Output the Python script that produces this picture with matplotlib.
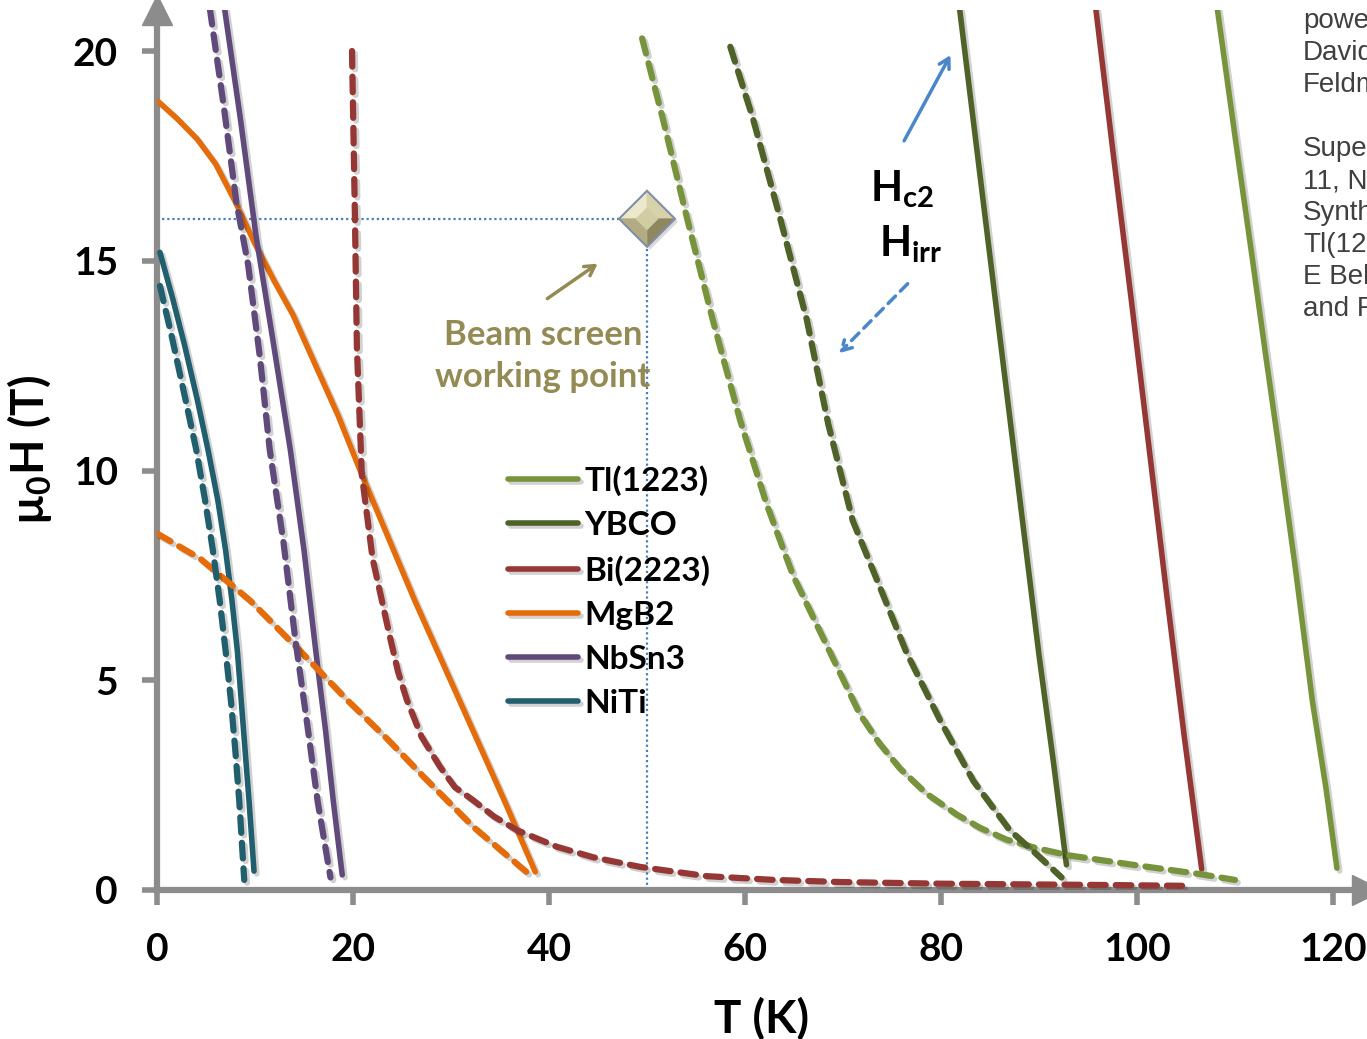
import numpy as np
import matplotlib
matplotlib.use("Agg")
import matplotlib.pyplot as plt
import matplotlib.patheffects as pe
from matplotlib import transforms
from matplotlib.patches import Polygon

plt.rcParams["font.family"] = ["Lato", "DejaVu Sans"]
plt.rcParams["font.weight"] = "bold"
plt.rcParams["mathtext.fontset"] = "custom"
plt.rcParams["mathtext.rm"] = "Lato:bold"
plt.rcParams["mathtext.default"] = "rm"

# ---- data (T in K, mu0H in T) ----
tl_T = [108.2, 110.1, 111.8, 113.1, 114.5, 116.2, 117.9, 119.3, 120.4]
tl_H = [21.0, 17.8, 15.0, 12.8, 10.5, 7.6, 4.5, 2.4, 0.52]
tl_irr_T = [49.5, 51.6, 54.1, 56.7, 59.5, 62.2, 64.9, 68.4, 71.7, 73.7, 75.8, 78.5, 81.6, 84.0, 86.7, 89.7,
            92.9, 99.6, 106.4, 110.0]
tl_irr_H = [20.3, 18.4, 16.0, 13.6, 11.2, 9.2, 7.5, 5.8, 4.2, 3.5, 2.9, 2.3, 1.8, 1.48, 1.2, 1.0,
            0.83, 0.6, 0.38, 0.24]

ybco_T = [81.9, 84.0, 86.0, 88.0, 90.0, 91.5, 92.8]
ybco_H = [21.0, 17.0, 13.2, 9.4, 5.6, 3.0, 0.6]
ybco_irr_T = [58.5, 60.8, 63.6, 66.3, 68.5, 71.0, 73.8, 76.5, 79.9, 83.3, 87.0, 90.0, 92.3]
ybco_irr_H = [20.1, 18.4, 16.0, 13.6, 11.1, 8.8, 7.2, 5.65, 4.05, 2.6, 1.43, 0.8, 0.3]

bi_T = [95.8, 97.6, 99.4, 101.2, 103.0, 104.8, 106.6]
bi_H = [21.0, 17.5, 14.1, 10.6, 7.1, 3.7, 0.5]
bi_irr_T = [19.9, 20.2, 20.4, 20.9, 22.0, 23.8, 24.6, 25.5, 27.0, 28.9, 30.4, 32.2, 34.4, 36.7, 40.8, 44.5,
            49.3, 56.1, 63.0, 69.7, 80.0, 96.2, 104.6]
bi_irr_H = [20.0, 16.0, 12.9, 9.9, 7.9, 6.0, 5.2, 4.53, 3.65, 2.93, 2.45, 2.15, 1.75, 1.43, 1.03, 0.78,
            0.55, 0.33, 0.24, 0.19, 0.15, 0.12, 0.1]

mgb2_T = [0.1, 2.0, 4.1, 6.0, 8.0, 10.0, 12.0, 13.9, 16.0, 18.5, 20.9, 26.3, 30.9, 35.5, 38.6]
mgb2_H = [18.8, 18.4, 17.9, 17.3, 16.4, 15.4, 14.5, 13.7, 12.6, 11.3, 9.9, 6.9, 4.5, 2.1, 0.43]
mgb2_irr_T = [0.0, 4.4, 9.5, 14.6, 19.4, 23.5, 27.2, 32.3, 37.7]
mgb2_irr_H = [8.5, 7.9, 6.9, 5.7, 4.53, 3.6, 2.7, 1.5, 0.43]

nbsn_T = [6.9, 8.5, 10.1, 11.9, 13.6, 15.0, 16.2, 17.2, 18.0, 18.9]
nbsn_H = [21.0, 18.4, 15.6, 13.0, 10.5, 8.1, 5.7, 3.8, 2.1, 0.36]
nbsn_irr_T = [5.4, 6.8, 8.1, 9.3, 10.5, 11.5, 12.9, 14.1, 15.3, 16.4, 17.7]
nbsn_irr_H = [21.0, 18.7, 16.4, 14.9, 12.7, 10.5, 8.3, 6.0, 4.0, 2.1, 0.3]

niti_T = [0.3, 1.6, 2.8, 4.1, 5.2, 6.2, 7.0, 7.65, 8.2, 8.6, 9.0, 9.4, 9.9]
niti_H = [15.2, 14.1, 13.0, 11.7, 10.5, 9.3, 8.1, 6.9, 5.7, 4.5, 3.3, 2.1, 0.45]
niti_irr_T = [0.3, 1.5, 2.9, 4.0, 4.9, 5.7, 6.4, 7.0, 7.55, 8.0, 8.4, 8.9]
niti_irr_H = [14.4, 13.2, 11.7, 10.5, 9.3, 8.1, 6.9, 5.7, 4.5, 3.3, 2.1, 0.24]

labels = ["Tl(1223)", "YBCO", "Bi(2223)", "MgB2", "NbSn3", "NiTi"]
colors = ["#77933C", "#4F6228", "#953735", "#E46C0A", "#604A7B", "#215E6E"]
hc2 = [(tl_T, tl_H), (ybco_T, ybco_H), (bi_T, bi_H), (mgb2_T, mgb2_H), (nbsn_T, nbsn_H), (niti_T, niti_H)]
hirr = [(tl_irr_T, tl_irr_H), (ybco_irr_T, ybco_irr_H), (bi_irr_T, bi_irr_H),
        (mgb2_irr_T, mgb2_irr_H), (nbsn_irr_T, nbsn_irr_H), (niti_irr_T, niti_irr_H)]

wp_T, wp_H = 50.0, 16.0

xticks = [0, 20, 40, 60, 80, 100, 120]
yticks = [0, 5, 10, 15, 20]

side_lines = ["powe", "David", "Feldm", "", "Super", "11, N", "Synth", "Tl(122", "E Bel", "and R"]

# ---- figure ----
W, H = 1367, 1039
fig = plt.figure(figsize=(W / 100, H / 100), dpi=100)
ax = fig.add_axes([157 / W, (H - 890) / H, (W - 157) / W, 880 / H])
ax.set_xlim(0, 1210 / 9.8)
ax.set_ylim(0, 880 / 41.95)

shadow = [pe.SimpleLineShadow(offset=(2, -2), shadow_color="k", alpha=0.18), pe.Normal()]
axis_gray = "#8C8C8C"

handles = []
for (t, h), c, lab in zip(hc2, colors, labels):
    ln, = ax.plot(t, h, color=c, lw=4, solid_capstyle="round", solid_joinstyle="round",
                  label=lab, path_effects=shadow, zorder=3)
    handles.append(ln)
for (t, h), c in zip(hirr, colors):
    ax.plot(t, h, color=c, lw=4.5, dashes=(2.5, 1.6), dash_capstyle="round", dash_joinstyle="round",
            path_effects=shadow, zorder=3)

# working point guides
ax.plot([0, wp_T], [wp_H, wp_H], color="#4A7EBB", lw=1.6, dashes=(1, 1.3), zorder=2)
ax.plot([wp_T, wp_T], [0, wp_H], color="#4A7EBB", lw=1.6, dashes=(1, 1.3), zorder=2)

# bevelled diamond marker at the working point
tr = fig.dpi_scale_trans + transforms.ScaledTranslation(wp_T, wp_H, ax.transData)
R, r = 0.28, 0.11
facets = [
    ([(-R, 0), (0, R), (0, r), (-r, 0)], "#ECE8CC"),
    ([(0, R), (R, 0), (r, 0), (0, r)], "#D8D2AA"),
    ([(R, 0), (0, -R), (0, -r), (r, 0)], "#8F875F"),
    ([(0, -R), (-R, 0), (-r, 0), (0, -r)], "#B3AB82"),
    ([(-r, 0), (0, r), (r, 0), (0, -r)], "#D2CCA3"),
]
ax.add_patch(Polygon([(-R + 0.03, -0.03), (0.03, R - 0.03), (R + 0.03, -0.03), (0.03, -R - 0.03)],
                     closed=True, transform=tr, facecolor="k", alpha=0.15, lw=0, zorder=5))
for verts, fc in facets:
    ax.add_patch(Polygon(verts, closed=True, transform=tr, facecolor=fc, edgecolor=fc, lw=0.5, zorder=6))
ax.add_patch(Polygon([(-R, 0), (0, R), (R, 0), (0, -R)], closed=True, transform=tr,
                     facecolor="none", edgecolor="#7F8FA6", lw=1.5, zorder=7))

# annotations
olive = "#948A54"
ax.annotate("", xy=(45.2, 14.97), xytext=(39.6, 14.06),
            arrowprops=dict(arrowstyle="->,head_length=0.7,head_width=0.4", color=olive, lw=2.5))
ax.text(39.4, 12.73, "Beam screen\nworking point", color=olive, fontsize=25, ha="center", va="center",
        linespacing=1.38)

blue = "#4A86C8"
ax.annotate("", xy=(81.1, 19.96), xytext=(76.1, 17.8),
            arrowprops=dict(arrowstyle="->,head_length=0.7,head_width=0.4", color=blue, lw=2.5))
ax.annotate("", xy=(69.4, 12.75), xytext=(76.8, 14.5),
            arrowprops=dict(arrowstyle="->,head_length=0.7,head_width=0.4", color=blue, lw=2.5,
                            linestyle=(0, (3, 2))))
ax.text(76.0, 16.7, "$H_{c2}$", fontsize=30, ha="center", va="center", color="k")
ax.text(76.9, 15.4, "$H_{irr}$", fontsize=30, ha="center", va="center", color="k")

# axes styling
for s in ["top", "right"]:
    ax.spines[s].set_visible(False)
for s in ["left", "bottom"]:
    ax.spines[s].set_color(axis_gray)
    ax.spines[s].set_linewidth(4.5)
ax.set_xticks(xticks)
ax.set_yticks(yticks)
ax.tick_params(axis="both", direction="out", length=11, width=4, color=axis_gray, labelsize=28)
ax.tick_params(axis="x", pad=19)
ax.tick_params(axis="y", pad=17)
for lbl in ax.get_xticklabels() + ax.get_yticklabels():
    lbl.set_fontweight("bold")
ax.plot([0], [1], marker="^", markersize=22, color=axis_gray, transform=ax.transAxes,
        clip_on=False, zorder=4)
ax.plot([1.0], [0], marker=">", markersize=22, color=axis_gray, transform=ax.transAxes,
        clip_on=False, zorder=4)

ax.set_xlabel("T (K)", fontsize=33, fontweight="bold", labelpad=22)
ax.set_ylabel("µ$_0$H (T)", fontsize=33, fontweight="bold", labelpad=14)

leg = ax.legend(handles=handles, loc="upper left", bbox_to_anchor=(508 / W, (H - 465) / H),
                bbox_transform=fig.transFigure, frameon=False, fontsize=24, handlelength=2.1,
                handletextpad=0.2, labelspacing=0.45, borderpad=0, borderaxespad=0)
for t in leg.get_texts():
    t.set_fontweight("bold")

# clipped slide text at the right edge
for i, s in enumerate(side_lines):
    fig.text(1303 / W, 1 - (28 + 32 * i) / H, s, fontsize=20, family="Liberation Sans",
             fontweight="normal", color="#404040", va="baseline", ha="left")

fig.savefig("out.png", dpi=100)
